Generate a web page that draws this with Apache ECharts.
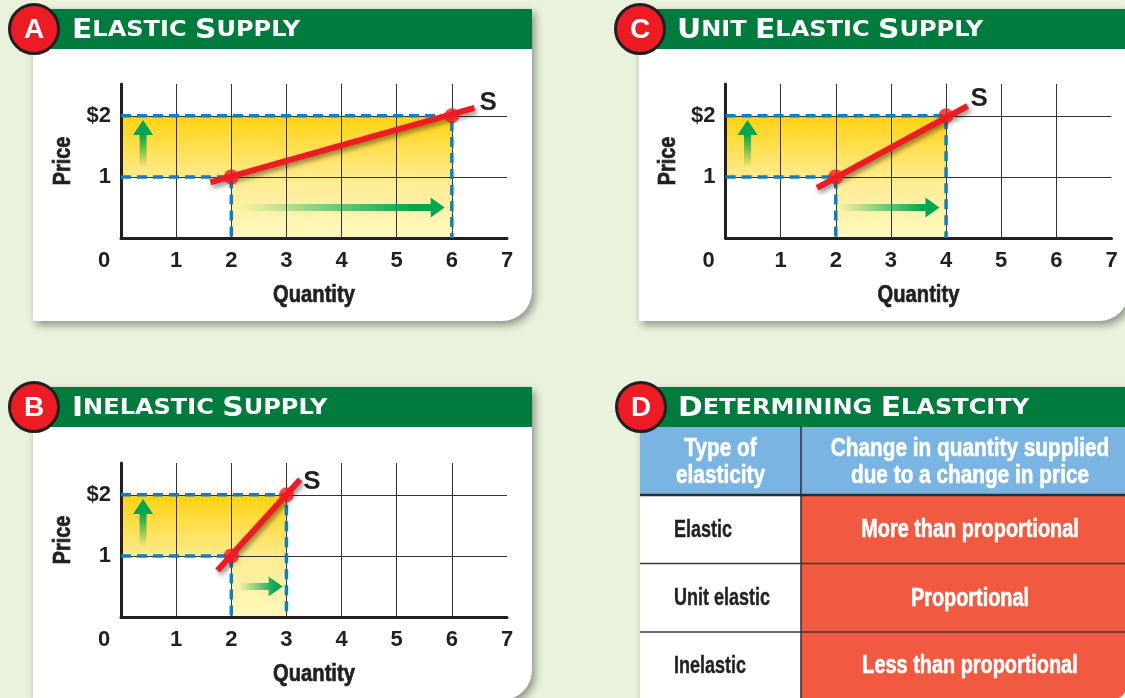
<!DOCTYPE html>
<html>
<head>
<meta charset="utf-8">
<style>
html, body { margin: 0; padding: 0; background: #e9f2dc; }
#main { width: 1125px; height: 698px; }
</style>
<script src="https://cdn.jsdelivr.net/npm/echarts@6/dist/echarts.min.js"></script>
</head>
<body>
<div id="main"></div>
<script>
// values
const priceLow = 1, priceHigh = 2;

const elasticPoints = [[2, 1], [6, 2]];
const elasticCurve = [[1.62, 0.91], [6.41, 2.13]];
const elasticArrow = [2.14, 5.87];

const unitPoints = [[2, 1], [4, 2]];
const unitCurve = [[1.66, 0.82], [4.39, 2.16]];
const unitArrow = [2.04, 3.88];

const inelasticPoints = [[2, 1], [3, 2]];
const inelasticCurve = [[1.75, 0.76], [3.25, 2.25]];
const inelasticArrow = [2.13, 2.93];

const upArrow = [1.15, 1.93];

const tableHead = ['Type of\nelasticity', 'Change in quantity supplied\ndue to a change in price'];
const tableTypes = ['Elastic', 'Unit elastic', 'Inelastic'];
const tableChanges = ['More than proportional', 'Proportional', 'Less than proportional'];

// no condensed face is installed, so the narrow look comes from scaleX on the text
const FONT = '"Liberation Sans", sans-serif';
const GREEN = '#007a3d', RED = '#ed1c24', DARK = '#231f20', ARROW = '#00a651';

const chart = echarts.init(document.getElementById('main'));

// card, green band and red letter badge
function panel(x, y, w, h, letter, head, sub, textX, lastRadius) {
    return [
        {type: 'rect', z: -10, shape: {x: x, y: y, width: w, height: h, r: [0, 0, lastRadius, 0]},
            style: {fill: '#fff', shadowColor: 'rgba(0,0,0,0.4)', shadowBlur: 8, shadowOffsetX: 3, shadowOffsetY: 4}},
        {type: 'rect', z: 5, shape: {x: x + 17, y: y, width: w - 17, height: 40}, style: {fill: GREEN}},
        {type: 'circle', z: 6, shape: {cx: x + 1, cy: y + 20, r: 24.5},
            style: {fill: RED, stroke: DARK, lineWidth: 3}},
        {type: 'text', z: 7, x: x + 1, y: y + 21, style: {text: letter, fill: '#fff',
            font: 'bold 28px ' + FONT, align: 'center', verticalAlign: 'middle'}},
        {type: 'text', z: 7, x: textX, y: y + 22, scaleX: 1.145, style: {
            text: head.map((w, i) => '{b|' + w + '}{s|' + sub[i] + '}').join('{s| }'),
            verticalAlign: 'middle',
            rich: {
                b: {fill: '#fff', font: 'bold 26px "DejaVu Sans", sans-serif'},
                s: {fill: '#fff', font: 'bold 21px "DejaVu Sans", sans-serif'}
            }
        }}
    ];
}

// axis titles sit in graphic so they can be narrowed
function axisTitles(grid) {
    const midX = grid.left + grid.width / 2;
    const midY = grid.top + grid.height / 2;
    return [
        {type: 'text', z: 7, x: midX, y: grid.top + grid.height + 57, scaleX: 0.84, style: {text: 'Quantity', fill: DARK,
            stroke: DARK, lineWidth: 0.7, font: 'bold 24px ' + FONT, align: 'center', verticalAlign: 'middle'}},
        {type: 'text', z: 7, x: grid.left - 57, y: midY, rotation: Math.PI / 2, scaleX: 0.86, style: {text: 'Price', fill: DARK,
            stroke: DARK, lineWidth: 0.7, font: 'bold 23px ' + FONT, align: 'center', verticalAlign: 'middle'}}
    ];
}

// table drawn in panel D
function tablePanel() {
    const left = 640, mid = 801, right = 1126;
    const rowTops = [495, 563.5, 632, 699];
    const items = [
        {type: 'rect', z: -5, shape: {x: left, y: 427, width: right - left, height: 68}, style: {fill: '#7ab4e3'}},
        {type: 'rect', z: -5, shape: {x: mid, y: 495, width: right - mid, height: 204, r: [0, 0, 12, 0]}, style: {fill: '#f15a40'}},
        {type: 'line', z: -4, shape: {x1: mid, y1: 427, x2: mid, y2: 699}, style: {stroke: '#2b2b2b', lineWidth: 1.5}},
        {type: 'line', z: -4, shape: {x1: left, y1: 495, x2: right, y2: 495}, style: {stroke: '#2b2b2b', lineWidth: 2.5}}
    ];
    [563.5, 632].forEach(function (y) {
        items.push({type: 'line', z: -4, shape: {x1: left, y1: y, x2: right, y2: y}, style: {stroke: '#3a3a3a', lineWidth: 1.5}});
    });
    [720.5, 970].forEach(function (cx, i) {
        items.push({type: 'text', z: 1, x: cx, y: 462, scaleX: 0.8, style: {text: tableHead[i], fill: '#fff',
            stroke: '#fff', lineWidth: 0.6, font: 'bold 26px ' + FONT, align: 'center', verticalAlign: 'middle', lineHeight: 27}});
    });
    tableTypes.forEach(function (name, i) {
        const cy = (rowTops[i] + rowTops[i + 1]) / 2 + 1;
        items.push({type: 'text', z: 1, x: 674, y: cy, scaleX: 0.75, style: {text: name, fill: DARK,
            stroke: DARK, lineWidth: 0.4, font: 'bold 24px ' + FONT, verticalAlign: 'middle'}});
        items.push({type: 'text', z: 1, x: 970, y: cy, scaleX: 0.795, style: {text: tableChanges[i], fill: '#fff',
            stroke: '#fff', lineWidth: 0.6, font: 'bold 25px ' + FONT, align: 'center', verticalAlign: 'middle'}});
    });
    return items;
}

// shaded rectangles behind the curve
function renderBands(params, api) {
    const a = api.coord([api.value(0), api.value(1)]);
    const b = api.coord([api.value(2), api.value(3)]);
    const upper = api.value(4) === 1;
    return {
        type: 'rect',
        shape: {x: a[0], y: b[1], width: b[0] - a[0], height: a[1] - b[1]},
        style: {fill: {type: 'linear', x: 0, y: 0, x2: 0, y2: 1, colorStops: upper
            ? [{offset: 0, color: '#ffd20f'}, {offset: 1, color: '#ffeb8c'}]
            : [{offset: 0, color: '#feeb8f'}, {offset: 1, color: '#fff8bf'}]}}
    };
}

// fading green arrows
function renderArrow(params, api) {
    const a = api.coord([api.value(0), api.value(1)]);
    const b = api.coord([api.value(2), api.value(3)]);
    const horizontal = a[1] === b[1];
    const half = 3.5, head = horizontal ? 14 : 15, wing = 10;
    const pts = horizontal
        ? [[a[0], a[1] - half], [b[0] - head, a[1] - half], [b[0] - head, a[1] - wing], [b[0], a[1]],
            [b[0] - head, a[1] + wing], [b[0] - head, a[1] + half], [a[0], a[1] + half]]
        : [[a[0] - half, a[1]], [a[0] - half, b[1] + head], [a[0] - wing, b[1] + head], [a[0], b[1]],
            [a[0] + wing, b[1] + head], [a[0] + half, b[1] + head], [a[0] + half, a[1]]];
    const fill = horizontal
        ? {type: 'linear', x: 0, y: 0, x2: 1, y2: 0, colorStops: [{offset: 0, color: 'rgba(0,166,81,0)'}, {offset: 0.85, color: ARROW}, {offset: 1, color: ARROW}]}
        : {type: 'linear', x: 0, y: 1, x2: 0, y2: 0, colorStops: [{offset: 0, color: 'rgba(0,166,81,0)'}, {offset: 0.7, color: ARROW}, {offset: 1, color: ARROW}]};
    return {type: 'polygon', shape: {points: pts}, style: {fill: fill}};
}

function xAxis(index) {
    return {
        gridIndex: index, type: 'value', min: 0, max: 7, interval: 1, z: 2,
        axisLine: {onZero: false, lineStyle: {color: DARK, width: 3}},
        axisTick: {show: false},
        axisLabel: {
            margin: 12, color: DARK, fontFamily: FONT, fontWeight: 'bold', fontSize: 22,
            formatter: v => v === 0 ? '{z|0}' : String(v),
            rich: {z: {padding: [0, 34, 0, 0], color: DARK, fontFamily: FONT, fontWeight: 'bold', fontSize: 22}}
        },
        splitLine: {show: true, showMinLine: false, showMaxLine: false, lineStyle: {color: '#333', width: 1}}
    };
}

function yAxis(index) {
    return {
        gridIndex: index, type: 'value', min: 0, max: 2.52, interval: 1, z: 2,
        axisLine: {onZero: false, lineStyle: {color: DARK, width: 3}},
        axisTick: {show: false},
        axisLabel: {
            margin: 10, color: DARK, fontFamily: FONT, fontWeight: 'bold', fontSize: 22,
            formatter: v => v === priceHigh ? '$2' : (v === priceLow ? '1' : '')
        },
        splitLine: {show: true, showMinLine: false, showMaxLine: false, lineStyle: {color: '#333', width: 1}}
    };
}

function panelSeries(index, points, curve, arrow, labelOffset) {
    const p1 = points[0], p2 = points[1];
    const axes = {xAxisIndex: index, yAxisIndex: index};
    const dash = {color: '#0b7fc4', width: 3.5, type: [10, 6]};
    return [
        Object.assign({type: 'custom', z: 1, silent: true, renderItem: renderBands, clip: false,
            data: [[0, p1[1], p2[0], p2[1], 1], [p1[0], 0, p2[0], p1[1], 0]]}, axes),
        Object.assign({type: 'line', z: 3, silent: true, symbol: 'none', lineStyle: dash, connectNulls: false,
            data: [[0, p1[1]], p1, [p1[0], 0], null, [0, p2[1]], p2, [p2[0], 0]]}, axes),
        Object.assign({type: 'custom', z: 4, silent: true, renderItem: renderArrow, clip: false,
            data: [[0.4, upArrow[0], 0.4, upArrow[1]], [arrow[0], 0.5, arrow[1], 0.5]]}, axes),
        Object.assign({type: 'line', z: 5, silent: true, symbol: 'none', data: curve,
            lineStyle: {color: RED, width: 6, cap: 'butt', shadowColor: 'rgba(0,0,0,0.45)', shadowBlur: 5, shadowOffsetX: 2, shadowOffsetY: 3},
            endLabel: {show: true, formatter: 'S', color: DARK, fontFamily: FONT, fontWeight: 'bold', fontSize: 26, distance: 5, offset: labelOffset}
        }, axes),
        Object.assign({type: 'scatter', z: 6, silent: true, symbolSize: 15, itemStyle: {color: RED}, data: points}, axes)
    ];
}

const grids = [
    {left: 121, top: 84, width: 386, height: 154},
    {left: 725.5, top: 84, width: 386, height: 154},
    {left: 121, top: 463, width: 386, height: 154}
];

const option = {
    animation: false,
    backgroundColor: '#e9f2dc',
    graphic: {elements: [].concat(
        panel(33, 9, 499, 312, 'A', ['E', 'S'], ['LASTIC', 'UPPLY'], 72, 30),
        panel(639, 9, 490, 312, 'C', ['U', 'E', 'S'], ['NIT', 'LASTIC', 'UPPLY'], 677, 30),
        panel(33, 387, 499, 313, 'B', ['I', 'S'], ['NELASTIC', 'UPPLY'], 72, 30),
        panel(640, 387, 490, 313, 'D', ['D', 'E'], ['ETERMINING', 'LASTCITY'], 678, 12),
        axisTitles(grids[0]), axisTitles(grids[1]), axisTitles(grids[2]),
        tablePanel()
    )},
    grid: grids,
    xAxis: [xAxis(0), xAxis(1), xAxis(2)],
    yAxis: [yAxis(0), yAxis(1), yAxis(2)],
    series: [].concat(
        panelSeries(0, elasticPoints, elasticCurve, elasticArrow, [0, -5]),
        panelSeries(1, unitPoints, unitCurve, unitArrow, [-2, -7]),
        panelSeries(2, inelasticPoints, inelasticCurve, inelasticArrow, [-2, 2])
    )
};

chart.setOption(option);
</script>
</body>
</html>
